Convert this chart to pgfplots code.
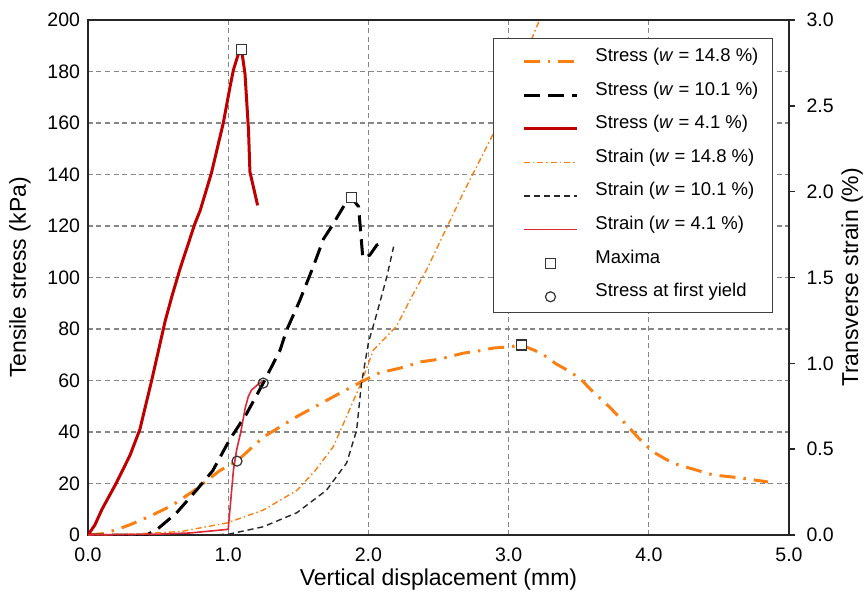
\documentclass[border=0pt]{standalone}
\usepackage{fontspec}
\setmainfont{Liberation Sans}
\usepackage{pgfplots}
\pgfplotsset{compat=1.18}

\definecolor{orng}{RGB}{250,128,20}
\definecolor{dred}{RGB}{192,0,0}
\definecolor{strainred}{RGB}{220,40,55}
\definecolor{gridgray}{RGB}{135,135,135}

\tikzset{
  maxmark/.style={mark=square*, mark size=5pt, mark options={fill=white, draw=black!80, line width=1.2pt, solid}},
  yieldmark/.style={mark=o, mark size=5pt, mark options={draw=black!80, line width=1.2pt, solid}},
}
\pgfplotsset{
  common/.style={
    scale only axis, width=701pt, height=515pt,
    xmin=0, xmax=5,
    /pgf/number format/assume math mode=true,
    tick label style={font=\fontsize{19.5}{23}\selectfont},
    label style={font=\fontsize{23}{27}\selectfont},
  },
  stress148/.style={color=orng, line width=3pt, dash pattern=on 16pt off 8pt on 2.5pt off 8pt},
  stress101/.style={color=black, line width=3pt, dash pattern=on 16pt off 8pt},
  stress41/.style={color=dred, line width=3pt},
  strain148/.style={color=orng, line width=1.4pt, dash pattern=on 6pt off 3pt on 1.5pt off 3pt},
  strain101/.style={color=black!85, line width=1.4pt, dash pattern=on 6pt off 4pt},
  strain41/.style={color=strainred, draw=strainred, line width=1.6pt},
}

\begin{document}
\begin{tikzpicture}
% ---------------- stress axis (left) ----------------
\begin{axis}[common, ymin=0, ymax=200,
  xtick={0,1,2,3,4,5}, ytick={0,20,...,200},
  grid=major, grid style={gridgray, line width=1.2pt, dash pattern=on 5pt off 3.5pt},
  major tick length=0pt,
  x tick label style={/pgf/number format/fixed,/pgf/number format/fixed zerofill,/pgf/number format/precision=1, yshift=-9pt},
  y tick label style={xshift=-4.5pt},
  axis line style={line width=1.4pt, black!85},
  xlabel={Vertical displacement (mm)},
  ylabel={Tensile stress (kPa)},
  xlabel style={at={(axis description cs:0.5,-0.087)}, anchor=center},
  ylabel style={at={(axis description cs:-0.097,0.5)}, anchor=center},
]
\coordinate (sw) at (rel axis cs:0,0);
\coordinate (ne) at (rel axis cs:1,1);
% Stress w = 14.8 %
\addplot[stress148] coordinates {
(0,0) (0.1,0.5) (0.2,2) (0.3,4) (0.45,7.5) (0.6,11.5) (0.75,17) (0.94,25) (1.063,28.7)
(1.25,38) (1.49,46) (1.75,53.7) (1.95,59.5) (2.08,63) (2.225,64.8) (2.38,67.3) (2.51,68.3)
(2.675,70.6) (2.8,71.6) (2.89,72.6) (3.01,73.1) (3.09,73.8) (3.19,71.6) (3.27,69.2) (3.34,66.4)
(3.44,63.4) (3.52,60.2) (3.60,55.7) (3.72,49.7) (3.82,44) (3.94,36.9) (4.03,32.3) (4.17,27.9)
(4.29,26) (4.46,23.3) (4.6,22.5) (4.75,21.4) (4.85,20.6)};
% Stress w = 10.1 %
\addplot[stress101] coordinates {
(0,0) (0.42,0) (0.5,2.5) (0.63,8.5) (0.775,17.5) (0.89,25) (1.01,37) (1.13,47) (1.25,59)
(1.37,71.8) (1.417,79.6) (1.51,91) (1.605,104) (1.68,115) (1.74,120) (1.80,125.5) (1.855,130.5)
(1.88,131) (1.93,127.5) (1.96,107.6) (2.01,108.7) (2.06,112.6) (2.12,114.2)};
% Stress w = 4.1 %
\addplot[stress41] coordinates {
(0,0) (0.05,4) (0.1,10) (0.2,20) (0.3,31) (0.37,41) (0.454,60) (0.5,71) (0.55,83) (0.6,93)
(0.66,104) (0.763,121) (0.8,126) (0.88,140.5) (0.965,160) (1.013,174) (1.037,180.6) (1.07,186.4)
(1.095,188.6) (1.12,179) (1.145,157) (1.155,141) (1.21,128)};
\end{axis}

% ---------------- strain axis (right) ----------------
\begin{axis}[common, ymin=0, ymax=3,
  axis y line*=right, axis x line=none,
  ytick={0,0.5,1,1.5,2,2.5,3},
  y tick label style={/pgf/number format/fixed,/pgf/number format/fixed zerofill,/pgf/number format/precision=1, xshift=8pt},
  tick align=outside, major tick length=6pt,
  tick style={line width=1.4pt, black!85},
  axis line style={line width=1.4pt, black!85},
  ylabel={Transverse strain (\%)},
  ylabel style={at={(axis description cs:1.09,0.5)}, anchor=center},
]
% Strain w = 14.8 %
\addplot[strain148] coordinates {
(0,0) (0.3,0.005) (0.66,0.02) (0.99,0.07) (1.25,0.145) (1.49,0.26) (1.62,0.375) (1.75,0.515)
(1.916,0.825) (1.95,0.89) (2.035,1.077) (2.2,1.215) (2.31,1.39) (2.415,1.545) (2.675,1.99)
(2.88,2.32) (3.0,2.55) (3.1,2.745) (3.17,2.9) (3.22,3.0)};
% Strain w = 10.1 %
\addplot[strain101] coordinates {
(0,0) (0.9,0) (1.01,0.006) (1.25,0.048) (1.49,0.13) (1.70,0.26) (1.845,0.42) (1.916,0.61)
(1.95,0.88) (2.0,1.12) (2.06,1.29) (2.13,1.5) (2.18,1.68)};
% Strain w = 4.1 %
\addplot[strain41] coordinates {
(0,0) (0.5,0.005) (0.73,0.012) (1.0,0.033) (1.037,0.375) (1.06,0.495) (1.09,0.6) (1.12,0.735)
(1.143,0.806) (1.167,0.845) (1.215,0.879) (1.24,0.893)};
\end{axis}

% ---------------- markers + legend ----------------
\begin{axis}[common, ymin=0, ymax=200, hide axis,
  legend cell align=left,
  legend image code/.code={%
    \draw[mark repeat=2,mark phase=2,#1] plot coordinates {(3pt,0pt) (29.5pt,0pt) (56pt,0pt)};
    \path (-12pt,0pt) (73pt,0pt);},
  legend style={at={(axis description cs:1,1)}, anchor=north east, xshift=-16pt, yshift=-18pt,
    draw=black!75, line width=1.2pt, fill=white,
    font=\fontsize{18.5}{22}\selectfont,
    inner xsep=14pt, inner ysep=10pt, row sep=14.6pt,
    cells={anchor=base west},
    nodes={inner sep=0pt, text height=13pt, text depth=6pt}},
]
\addlegendimage{stress148}\addlegendentry{Stress (\textit{w} = 14.8 \%)}
\addlegendimage{stress101}\addlegendentry{Stress (\textit{w} = 10.1 \%)}
\addlegendimage{stress41}\addlegendentry{Stress (\textit{w} = 4.1 \%)}
\addlegendimage{strain148}\addlegendentry{Strain (\textit{w} = 14.8 \%)}
\addlegendimage{strain101}\addlegendentry{Strain (\textit{w} = 10.1 \%)}
\addlegendimage{strain41}\addlegendentry{Strain (\textit{w} = 4.1 \%)}
\addlegendimage{legend image code/.code={%
    \draw[maxmark] plot coordinates {(29.5pt,0pt)};
    \path (-12pt,0pt) (73pt,0pt);}}
\addlegendentry{Maxima}
\addlegendimage{legend image code/.code={%
    \draw[yieldmark] plot coordinates {(29.5pt,0pt)};
    \path (-12pt,0pt) (73pt,0pt);}}
\addlegendentry{Stress at first yield}
\addplot[only marks, maxmark, forget plot]
  coordinates {(1.095,188.6) (1.88,131) (3.09,73.8)};
\addplot[only marks, yieldmark, forget plot]
  coordinates {(1.063,28.7) (1.25,59)};
\end{axis}

\pgfresetboundingbox
\path ([shift={(-88pt,-67pt)}]sw) rectangle ([shift={(79pt,20pt)}]ne);
\end{tikzpicture}
\end{document}
